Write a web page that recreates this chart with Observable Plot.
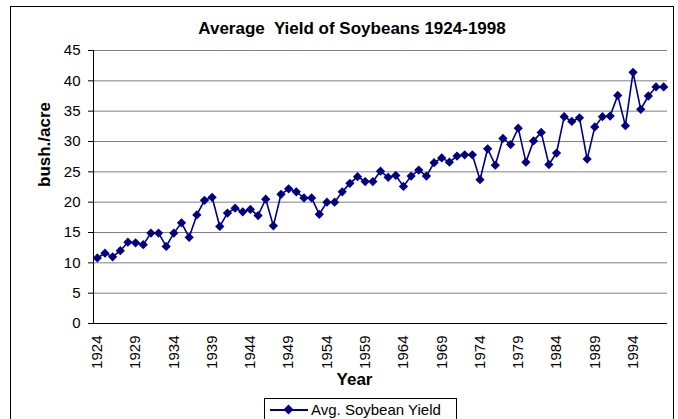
<!DOCTYPE html>
<html>
<head>
<meta charset="utf-8">
<script src="https://cdn.jsdelivr.net/npm/d3@7"></script>
<script src="https://cdn.jsdelivr.net/npm/@observablehq/plot@0.6"></script>
<style>
  html, body { margin: 0; padding: 0; background: #fff; }
  body { width: 678px; height: 419px; position: relative; overflow: hidden; font-family: "Liberation Sans", Arial, sans-serif; color: #000; }
  #frame { position: absolute; left: 10px; top: 6px; width: 664px; height: 440px; border: 1px solid #000; box-sizing: border-box; }
  #title { position: absolute; left: 26px; width: 652px; top: 19px; line-height: 20px; text-align: center; font-weight: bold; font-size: 17px; }
  #chart { position: absolute; left: 0; top: 40px; }
  #legend { position: absolute; left: 264px; top: 398px; width: 193px; height: 30px; border: 1px solid #000; box-sizing: border-box; background: #fff; }
  #legend .ln { position: absolute; left: 5px; top: 10px; width: 38px; height: 2px; background: #000080; }
  #legend .mk { position: absolute; left: 20px; top: 7px; width: 7px; height: 7px; background: #000080; transform: rotate(45deg); }
  #legend .tx { position: absolute; left: 46px; top: 1px; font-size: 15px; line-height: 20px; white-space: nowrap; }
</style>
</head>
<body>
<div id="frame"></div>
<div id="title">Average&nbsp; Yield of Soybeans 1924-1998</div>
<div id="chart"></div>
<div id="legend"><div class="ln"></div><div class="mk"></div><div class="tx">Avg. Soybean Yield</div></div>
<script>
const years = [1924,1925,1926,1927,1928,1929,1930,1931,1932,1933,1934,1935,1936,1937,1938,1939,1940,1941,1942,1943,1944,1945,1946,1947,1948,1949,1950,1951,1952,1953,1954,1955,1956,1957,1958,1959,1960,1961,1962,1963,1964,1965,1966,1967,1968,1969,1970,1971,1972,1973,1974,1975,1976,1977,1978,1979,1980,1981,1982,1983,1984,1985,1986,1987,1988,1989,1990,1991,1992,1993,1994,1995,1996,1997,1998];
const yieldValues = [10.8,11.6,11.0,12.0,13.4,13.3,13.0,14.9,14.9,12.7,14.9,16.6,14.2,17.9,20.3,20.8,16.0,18.2,19.0,18.4,18.8,17.8,20.5,16.1,21.3,22.2,21.7,20.7,20.7,18.0,20.0,20.0,21.7,23.1,24.2,23.4,23.4,25.1,24.1,24.4,22.6,24.3,25.3,24.3,26.5,27.3,26.6,27.6,27.8,27.8,23.7,28.8,26.1,30.5,29.5,32.2,26.6,30.1,31.5,26.2,28.1,34.1,33.3,33.9,27.1,32.4,34.1,34.2,37.6,32.6,41.4,35.3,37.5,39.0,39.0];
const xTickYears = [1924,1929,1934,1939,1944,1949,1954,1959,1964,1969,1974,1979,1984,1989,1994];
const yTicks = [0,5,10,15,20,25,30,35,40,45];
const seriesName = "Avg. Soybean Yield";
const xTitle = "Year";
const yTitle = "bush./acre";

const data = years.map((y, i) => ({year: y, value: yieldValues[i], series: seriesName}));

const chart = Plot.plot({
  width: 678,
  height: 350,
  marginLeft: 93,
  marginRight: 11,
  marginTop: 10,
  marginBottom: 67,
  style: {fontFamily: "'Liberation Sans', Arial, sans-serif", fontSize: "15px", color: "#000", background: "transparent", overflow: "visible"},
  x: {type: "point", domain: years, padding: 0.5},
  y: {domain: [0, 45]},
  marks: [
    Plot.gridY(yTicks.filter(d => d > 0), {stroke: "#808080", strokeOpacity: 1, strokeWidth: 1}),
    Plot.frame({anchor: "left", stroke: "#000", strokeWidth: 1}),
    Plot.ruleY([0], {stroke: "#000", strokeWidth: 1}),
    Plot.axisY(yTicks, {tickSize: 5, tickPadding: 8, label: null, fontSize: 15}),
    Plot.axisX(xTickYears, {tickSize: 0, tickPadding: 12, tickRotate: -90, tickFormat: d => String(d), label: null, fontSize: 15}),
    Plot.line(data, {x: "year", y: "value", stroke: "#000080", strokeWidth: 1.6}),
    Plot.dot(data, {x: "year", y: "value", symbol: "square", rotate: 45, r: 3.7, fill: "#000080", stroke: "none"}),
    Plot.text([xTitle], {frameAnchor: "bottom", dx: -26, dy: 56, fontWeight: "bold", fontSize: 17, lineAnchor: "middle"}),
    Plot.text([yTitle], {frameAnchor: "left", dx: -49, rotate: -90, fontWeight: "bold", fontSize: 17, lineAnchor: "middle"})
  ]
});
document.getElementById("chart").appendChild(chart);
</script>
</body>
</html>
